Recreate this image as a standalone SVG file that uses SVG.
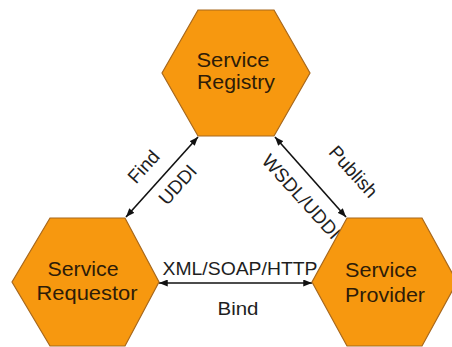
<svg xmlns="http://www.w3.org/2000/svg" width="452" height="347" viewBox="0 0 452 347">
  <style>
    .hex { fill: #f7980f; stroke: #a8681c; stroke-width: 1.2; }
    .node-label { font-family: "Liberation Sans", Arial, sans-serif; font-size: 19.5px; fill: #2e1c08; text-anchor: middle; }
    .edge-label { font-family: "Liberation Sans", Arial, sans-serif; font-size: 19px; fill: #1e1e1e; text-anchor: middle; }
    .edge { stroke: #111; stroke-width: 1.6; fill: none; marker-start: url(#head); marker-end: url(#head); }
  </style>
  <defs>
    <marker id="head" viewBox="0 0 10 8" refX="10" refY="4" markerWidth="9" markerHeight="7" markerUnits="userSpaceOnUse" orient="auto-start-reverse">
      <path d="M0,0 L10,4 L0,8 Z" fill="#111"/>
    </marker>
  </defs>
  <rect width="452" height="347" fill="#ffffff"/>

  <!-- connectors with their labels -->
  <g id="connectors">
    <line class="edge" x1="126" y1="217" x2="198" y2="137"/>
    <line class="edge" x1="275" y1="137" x2="346" y2="217"/>
    <line class="edge" x1="159" y1="283" x2="312" y2="283"/>
    <text class="edge-label" transform="translate(144,167) rotate(-48)" dy="6">Find</text>
    <text class="edge-label" transform="translate(178,185) rotate(-48)" dy="6">UDDI</text>
    <text class="edge-label" transform="translate(353,172) rotate(48)" dy="6">Publish</text>
    <text class="edge-label" transform="translate(301,197) rotate(48)" dy="6">WSDL/UDDI</text>
    <text class="edge-label" x="240" y="275" textLength="155" lengthAdjust="spacingAndGlyphs">XML/SOAP/HTTP</text>
    <text class="edge-label" x="238" y="315" textLength="41" lengthAdjust="spacingAndGlyphs">Bind</text>
  </g>

  <g id="service-registry">
    <polygon class="hex" points="198,10 274,10 310,73 274,136 198,136 162,73"/>
    <text class="node-label" x="233" y="67" textLength="73" lengthAdjust="spacingAndGlyphs">Service</text>
    <text class="node-label" x="236" y="89" textLength="78" lengthAdjust="spacingAndGlyphs">Registry</text>
  </g>

  <g id="service-requestor">
    <polygon class="hex" points="50,218 125,218 159,282 125,346 50,346 12,282"/>
    <text class="node-label" x="83" y="276" textLength="71" lengthAdjust="spacingAndGlyphs">Service</text>
    <text class="node-label" x="87" y="300" textLength="101" lengthAdjust="spacingAndGlyphs">Requestor</text>
  </g>

  <g id="service-provider">
    <polygon class="hex" points="347,218 422,218 457,282 422,346 347,346 312,282"/>
    <text class="node-label" x="381" y="277" textLength="72" lengthAdjust="spacingAndGlyphs">Service</text>
    <text class="node-label" x="385" y="302" textLength="80" lengthAdjust="spacingAndGlyphs">Provider</text>
  </g>
</svg>
